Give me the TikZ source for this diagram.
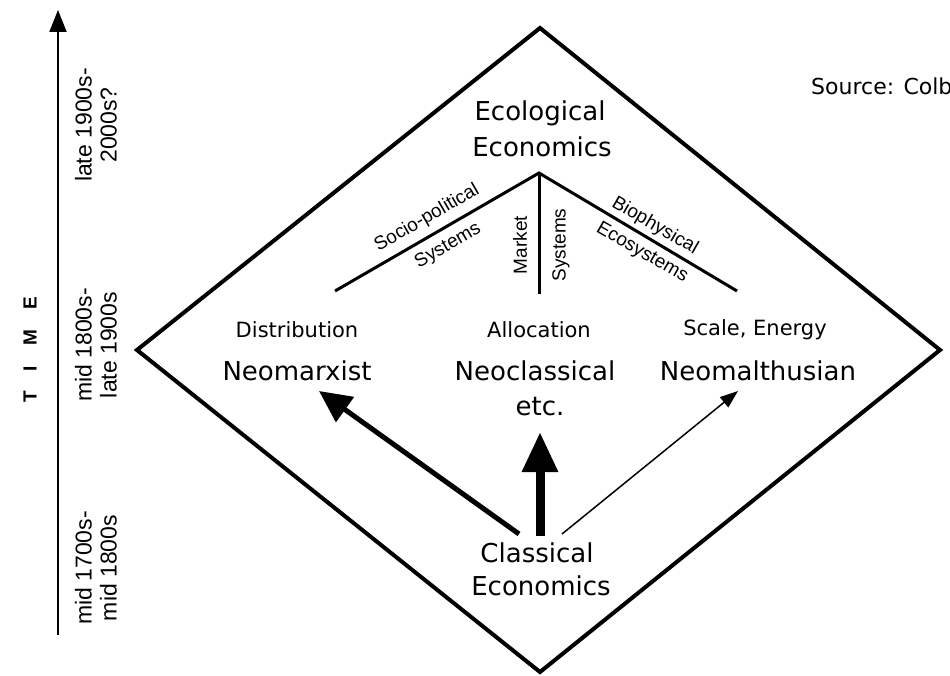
\documentclass[tikz,border=0pt]{standalone}
\usepackage{fontspec}
\setmainfont{DejaVu Sans}
\newfontfamily\arialf{Liberation Sans}
\usetikzlibrary{arrows.meta}
\begin{document}
\begin{tikzpicture}[x=1pt,y=-1pt,
  mainlab/.style={font=\fontsize{26}{30}\selectfont, inner sep=0pt, anchor=base},
  sublab/.style={font=\fontsize{21}{24}\selectfont, inner sep=0pt, anchor=base},
  brlab/.style={font=\arialf\fontsize{19}{22}\selectfont, inner sep=0pt},
  timelab/.style={font=\arialf\fontsize{23}{25}\selectfont, inner sep=0pt, rotate=90, align=center},
  frame/.style={line width=4pt, line join=miter},
  branch/.style={line width=3pt},
]
\useasboundingbox (0,0) rectangle (950,676);

% time axis
\coordinate (tBot) at (58,635);
\coordinate (tTop) at (58,10);
\draw[line width=2pt, -{Triangle[length=22pt,width=17pt]}] (tBot) -- (tTop);
\node[font=\arialf\bfseries\fontsize{19}{21}\selectfont, rotate=90, inner sep=0pt] (time) at (30,350)
  {T\hspace{20pt}I\hspace{20pt}M\hspace{20pt}E};
\node[timelab] (t1) at (96,568) {mid 1700s-\\mid 1800s};
\node[timelab] (t2) at (96,345) {mid 1800s-\\late 1900s};
\node[timelab] (t3) at (96,125) {late 1900s-\\2000s?};

% diamond
\coordinate (dT) at (540,28);
\coordinate (dR) at (940,350);
\coordinate (dB) at (540,672);
\coordinate (dL) at (137,350);
\draw[frame] (dT) -- (dR) -- (dB) -- (dL) -- cycle;

% source
\node[font=\fontsize{22}{26}\selectfont, inner sep=0pt, anchor=base west] (src) at (811,95) {Source: Colby};

% top
\node[mainlab] (eco1) at (540,121) {Ecological};
\node[mainlab] (eco2) at (542,157) {Economics};

% branches
\coordinate (bA) at (539,173);
\coordinate (bL) at (335,291);
\coordinate (bR) at (737,291);
\coordinate (bM) at (539,294);
\draw[branch] (bL) -- (bA) -- (bR);
\draw[branch] (bA) -- (bM);
\node[brlab, rotate=30] (soc) at (427,218) {Socio-political};
\node[brlab, rotate=30] (sys1) at (448,246) {Systems};
\node[brlab, rotate=90] (mkt) at (520,245) {Market};
\node[brlab, rotate=90] (sys2) at (561,245) {Systems};
\node[brlab, rotate=-30] (bio) at (655,226) {Biophysical};
\node[brlab, rotate=-30] (ecos) at (642,253) {Ecosystems};

% middle row
\node[sublab] (dist) at (297,337) {Distribution};
\node[sublab] (alloc) at (539,337) {Allocation};
\node[sublab] (scale) at (755,335) {Scale, Energy};
\node[mainlab] (nmx) at (297,380) {Neomarxist};
\node[mainlab] (ncl) at (535,380) {Neoclassical};
\node[mainlab] (etc) at (540,415) {etc.};
\node[mainlab] (nml) at (758,380) {Neomalthusian};

% bottom
\node[mainlab] (cls1) at (537,562) {Classical};
\node[mainlab] (cls2) at (541,595) {Economics};

% arrows
\coordinate (aL0) at (519,534);
\coordinate (aL1) at (319,391);
\coordinate (aM0) at (540,536);
\coordinate (aM1) at (540,432);
\coordinate (aR0) at (562,534);
\coordinate (aR1) at (738,391);
\draw[line width=5pt, -{Triangle[length=32pt,width=30pt]}] (aL0) -- (aL1);
\draw[line width=9pt, -{Triangle[length=40pt,width=34pt]}] (aM0) -- (aM1);
\draw[line width=1.5pt, -{Triangle[length=18pt,width=13pt]}] (aR0) -- (aR1);
\end{tikzpicture}
\end{document}
